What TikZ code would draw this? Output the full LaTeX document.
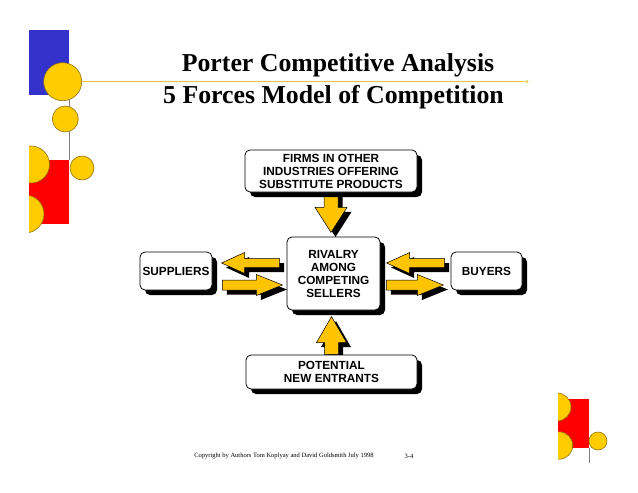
\documentclass[tikz,border=0pt]{standalone}
\usepackage{fontspec}
\setmainfont{Liberation Serif}
\newfontfamily\arial{Liberation Sans}
\usetikzlibrary{shadows,calc}
\definecolor{yel}{HTML}{FFC400}
\definecolor{circ}{HTML}{FFCC00}
\definecolor{circline}{HTML}{8F7010}
\definecolor{myblue}{HTML}{3333CC}
\definecolor{myred}{HTML}{FF0000}
\definecolor{goldline}{HTML}{EEC83A}
\pgfdeclarelayer{back}
\pgfdeclarelayer{bg}
\pgfsetlayers{back,bg,main}
% block arrow: #1 tail coordinate, #2 angle, #3 length, #4 shaft half width, #5 head half width, #6 head length
\newcommand\blkarrow[6]{%
 \begin{scope}[shift={#1},shift={(4.5,4.5)},rotate=#2]
  \fill[black] (0,-#4) -- ({#3-#6},-#4) -- ({#3-#6},-#5) -- (#3,0) -- ({#3-#6},#5) -- ({#3-#6},#4) -- (0,#4) -- cycle;
 \end{scope}
 \begin{scope}[shift={#1},rotate=#2]
  \filldraw[fill=yel,draw=black,line width=0.5pt,line join=miter] (0,-#4) -- ({#3-#6},-#4) -- ({#3-#6},-#5) -- (#3,0) -- ({#3-#6},#5) -- ({#3-#6},#4) -- (0,#4) -- cycle;
 \end{scope}}
\tikzset{
 box/.style={draw=black, line width=0.8pt, rounded corners=5pt, fill=white,
   drop shadow={shadow xshift=5pt, shadow yshift=-5pt, opacity=1, fill=black},
   align=center, inner sep=0pt, font=\arial\bfseries\fontsize{11.8}{13}\selectfont},
 dot/.style={fill=circ, draw=circline, line width=0.6pt},
 title/.style={font=\bfseries\fontsize{25.8}{30}\selectfont, inner sep=0pt},
 foot/.style={font=\fontsize{6.5}{8}\selectfont, inner sep=0pt}
}
\begin{document}
\begin{tikzpicture}[x=1pt,y=-1pt]
\begin{pgfonlayer}{back}
\fill[white] (0,0) rectangle (638,493);
\end{pgfonlayer}
\useasboundingbox (0,0) rectangle (638,493);
% decorations top left
\fill[myblue] (29,30) rectangle (69,95);
\draw[gray, line width=0.6pt] (69,95) -- (69,160);
\draw[goldline, line width=1.5pt] (70,81.7) -- (525,81.7);
\fill[goldline] (527,81.7) circle (1.5);
\draw[dot] (62.7,81.7) circle (19);
\draw[dot] (65.3,119) circle (13);
\fill[myred] (29,160) rectangle (69,224);
\begin{scope}
 \clip (29,130) rectangle (100,240);
 \draw[dot] (31,164.5) circle (18.5);
 \draw[dot] (25,214) circle (19);
\end{scope}
\draw[dot] (82,168) circle (12);
% decorations bottom right
\fill[myred] (558,399) rectangle (589,448);
\draw[gray, line width=0.6pt] (589,448) -- (589,463);
\begin{scope}
 \clip (558,380) rectangle (600,470);
 \draw[dot] (557,407) circle (14);
 \draw[dot] (559,445.5) circle (13.7);
\end{scope}
\draw[dot] (598,441) circle (9);
% titles
\node[title] (t1) at (338,65) {Porter Competitive Analysis};
\node[title] (t2) at (333.5,97) {5 Forces Model of Competition};
% boxes
\node[box, minimum width=172pt, minimum height=42pt] (subst) at (331,171) {FIRMS IN OTHER\\INDUSTRIES OFFERING\\SUBSTITUTE PRODUCTS};
\node[box, minimum width=93pt, minimum height=73pt] (rival) at (333.5,273.5) {RIVALRY\\AMONG\\COMPETING\\SELLERS};
\node[box, minimum width=72pt, minimum height=38pt] (supp) at (176,271) {SUPPLIERS};
\node[box, minimum width=71pt, minimum height=38pt] (buy) at (486.5,271) {BUYERS};
\node[box, minimum width=171pt, minimum height=34pt] (entr) at (331.5,372) {POTENTIAL\\NEW ENTRANTS};
% block arrows
\begin{pgfonlayer}{bg}
 \blkarrow{(subst.south)}{-90}{40}{7}{16}{25}
 \blkarrow{(entr.north)}{90}{38}{7}{15}{26}
 \blkarrow{($(rival.west)+(-7,-10.5)$)}{180}{58}{4.5}{10.5}{23}
 \blkarrow{($(supp.east)+(10,14)$)}{0}{60}{5}{10.5}{26}
 \blkarrow{($(buy.west)+(-6,-8)$)}{180}{58}{4.5}{10.5}{23}
 \blkarrow{($(rival.east)+(6,11.5)$)}{0}{57}{5}{10.5}{26}
\end{pgfonlayer}
% footer
\node[foot] (copy) at (284,456) {Copyright by Authors Tom Koplyay and David Goldsmith July 1998};
\node[foot] (page) at (409,456) {3-4};
\end{tikzpicture}
\end{document}
